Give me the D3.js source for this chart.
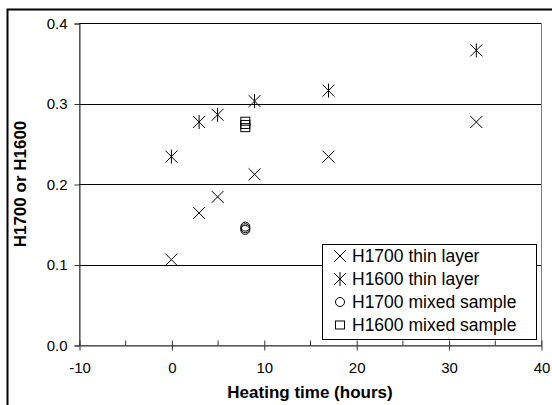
<!DOCTYPE html>
<html>
<head>
<meta charset="utf-8">
<script src="https://cdn.jsdelivr.net/npm/d3@7"></script>
<style>
  body { margin: 0; background: #fff; }
  svg { display: block; font-family: "Liberation Sans", Arial, sans-serif; }
</style>
</head>
<body>
<svg id="chart" width="552" height="405"></svg>
<script>
// heating time (hours)
const thinHours = [0, 3, 5, 9, 17, 33];
const h1700Thin = [0.106, 0.164, 0.184, 0.212, 0.234, 0.277];
const h1600Thin = [0.234, 0.277, 0.286, 0.303, 0.316, 0.366];

const mixedHours = [8, 8, 8];
const h1700Mixed = [0.143, 0.145, 0.147];
const h1600Mixed = [0.270, 0.274, 0.278];

const xTicks = [-10, 0, 10, 20, 30, 40];
const xMinor = [-5, 5, 15, 25, 35];
const yTicks = [0.0, 0.1, 0.2, 0.3, 0.4];

const legendLabels = ["H1700 thin layer", "H1600 thin layer", "H1700 mixed sample", "H1600 mixed sample"];
const legendShapes = ["x", "star", "circle", "square"];

const svg = d3.select("#chart");

const plot = { left: 79, right: 541, top: 23, bottom: 345 };

const x = d3.scaleLinear().domain([-10, 40]).range([plot.left, plot.right]);
const y = d3.scaleLinear().domain([0, 0.4]).range([plot.bottom, plot.top]);

// outer frame (runs off the right and bottom)
svg.append("rect")
    .attr("x", 7.5).attr("y", 9.5)
    .attr("width", 600).attr("height", 500)
    .attr("fill", "none").attr("stroke", "#000").attr("stroke-width", 2);

// plot area border
svg.append("rect")
    .attr("x", plot.left + 0.5).attr("y", plot.top + 0.5)
    .attr("width", plot.right - plot.left).attr("height", plot.bottom - plot.top)
    .attr("fill", "none").attr("stroke", "#808080");

// gridlines
svg.append("g").selectAll("line")
    .data(yTicks.filter(d => d > 0))
    .join("line")
    .attr("x1", plot.left).attr("x2", plot.right)
    .attr("y1", d => Math.round(y(d)) + 0.5).attr("y2", d => Math.round(y(d)) + 0.5)
    .attr("stroke", "#000");

// y axis
const yAxis = svg.append("g")
    .attr("transform", `translate(${plot.left + 0.5},0.5)`)
    .call(d3.axisLeft(y).tickValues(yTicks).tickFormat(d3.format(".1f")).tickSize(5).tickPadding(7));
yAxis.select(".domain").attr("stroke", "#333");
yAxis.selectAll(".tick line").attr("stroke", "#333");
yAxis.selectAll("text").attr("font-size", 15).attr("fill", "#000").attr("font-family", "Liberation Sans, Arial, sans-serif");

// x axis
const xAxis = svg.append("g")
    .attr("transform", `translate(0.5,${plot.bottom + 0.5})`)
    .call(d3.axisBottom(x).tickValues(xTicks).tickFormat(d => String(d)).tickSize(5).tickPadding(12).tickSizeOuter(0));
xAxis.select(".domain").attr("stroke", "#333");
xAxis.selectAll(".tick line").attr("stroke", "#333").attr("y1", -5).attr("y2", 5);
xAxis.selectAll("text").attr("font-size", 15).attr("fill", "#000").attr("font-family", "Liberation Sans, Arial, sans-serif");
xAxis.append("g").selectAll("line")
    .data(xMinor)
    .join("line")
    .attr("x1", d => x(d)).attr("x2", d => x(d))
    .attr("y1", 0).attr("y2", -5)
    .attr("stroke", "#333");

// axis titles
svg.append("text")
    .attr("x", (plot.left + plot.right) / 2).attr("y", 398)
    .attr("text-anchor", "middle")
    .attr("font-size", 17).attr("font-weight", "bold")
    .text("Heating time (hours)");

svg.append("text")
    .attr("transform", `translate(26,${(plot.top + plot.bottom) / 2}) rotate(-90)`)
    .attr("text-anchor", "middle")
    .attr("font-size", 17).attr("font-weight", "bold")
    .text("H1700 or H1600");

// marker drawing
function marker(g, shape, cx, cy) {
    const s = 6;
    if (shape === "x" || shape === "star") {
        g.append("line").attr("x1", cx - s).attr("y1", cy - s).attr("x2", cx + s).attr("y2", cy + s);
        g.append("line").attr("x1", cx - s).attr("y1", cy + s).attr("x2", cx + s).attr("y2", cy - s);
        if (shape === "star") {
            g.append("line").attr("x1", cx).attr("y1", cy - s - 1).attr("x2", cx).attr("y2", cy + s + 1);
        }
    } else if (shape === "circle") {
        g.append("circle").attr("cx", cx).attr("cy", cy).attr("r", 4.5);
    } else if (shape === "square") {
        g.append("rect").attr("x", cx - 4.5).attr("y", cy - 4).attr("width", 9).attr("height", 8);
    }
}

const marks = svg.append("g").attr("stroke", "#000").attr("fill", "none").attr("stroke-width", 1);

const series = [
    { shape: "x", xs: thinHours, ys: h1700Thin },
    { shape: "star", xs: thinHours, ys: h1600Thin },
    { shape: "circle", xs: mixedHours, ys: h1700Mixed },
    { shape: "square", xs: mixedHours, ys: h1600Mixed }
];
series.forEach(s => {
    s.xs.forEach((h, i) => marker(marks, s.shape, x(h), y(s.ys[i])));
});

// legend
const lg = { x: 322, y: 244, w: 214, h: 95, row: 23 };
svg.append("rect")
    .attr("x", lg.x + 0.5).attr("y", lg.y + 0.5)
    .attr("width", lg.w).attr("height", lg.h)
    .attr("fill", "#fff").attr("stroke", "#000");

const legendMarks = svg.append("g").attr("stroke", "#000").attr("fill", "none");
legendLabels.forEach((label, i) => {
    const cy = lg.y + 12 + i * lg.row;
    marker(legendMarks, legendShapes[i], 340, cy);
    svg.append("text")
        .attr("x", 352).attr("y", cy)
        .attr("dy", "0.36em")
        .attr("font-size", 17.5)
        .text(label);
});
</script>
</body>
</html>
